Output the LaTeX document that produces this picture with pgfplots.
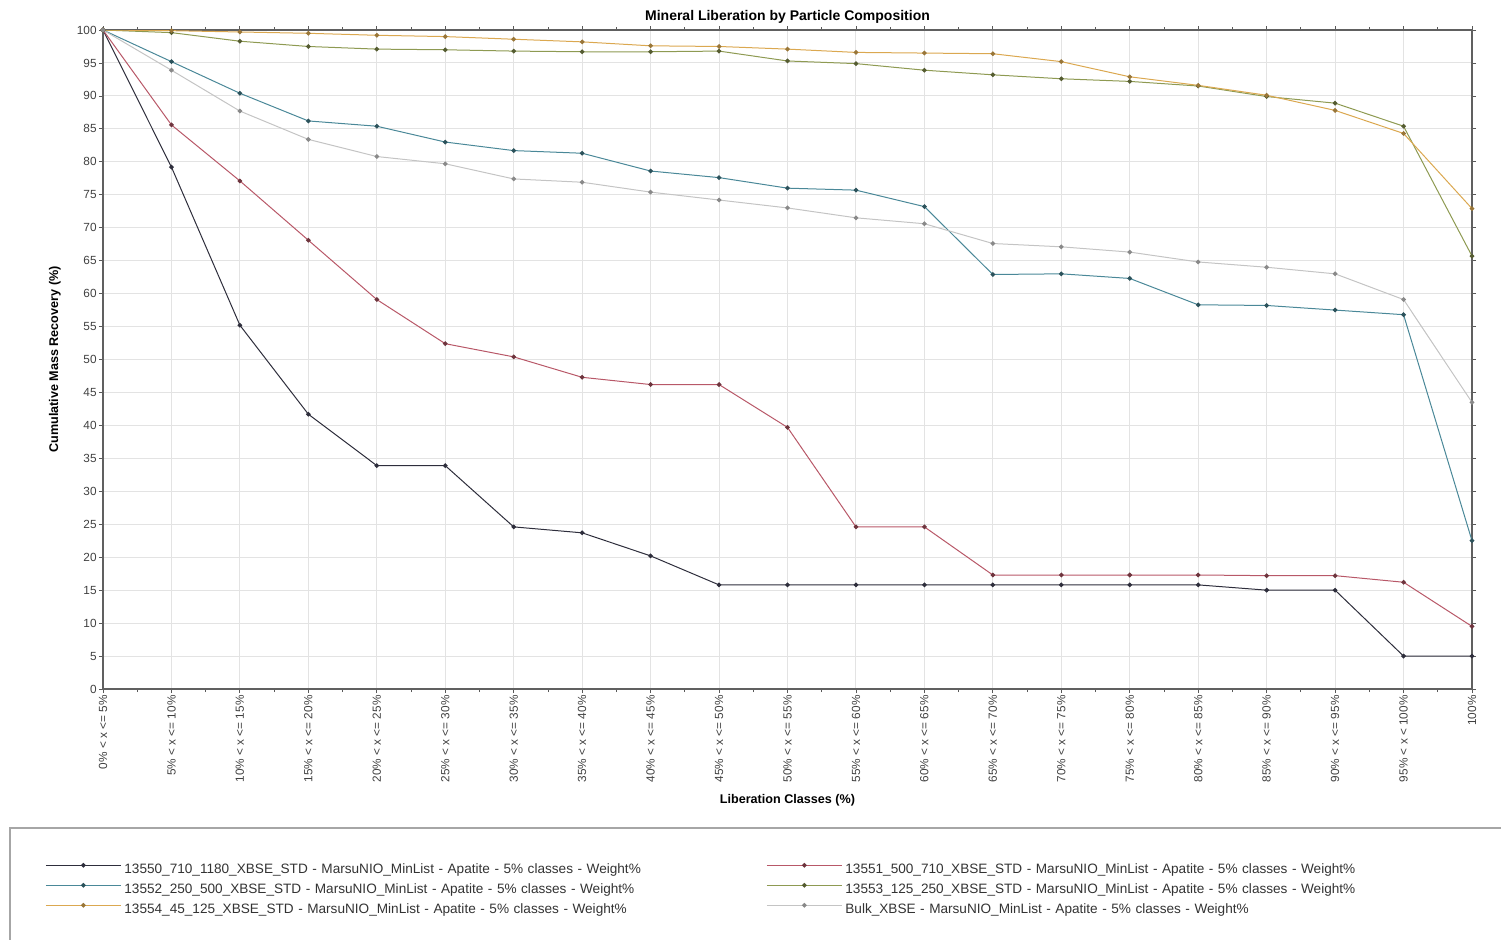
\documentclass[border=0pt]{standalone}
\usepackage{fontspec}
\setmainfont{Liberation Sans}
\usepackage{pgfplots}
\pgfplotsset{compat=1.18}
\definecolor{cA}{HTML}{2E2E3C}
\definecolor{cB}{HTML}{B85868}
\definecolor{cC}{HTML}{4A8898}
\definecolor{cD}{HTML}{8E9A52}
\definecolor{cE}{HTML}{DBA850}
\definecolor{cF}{HTML}{C4C4C4}
\begin{document}
\begin{tikzpicture}
\path[use as bounding box] (-51.5pt,-125pt) rectangle (699pt,344.5pt);
\begin{axis}[
 at={(0,0)}, anchor=south west,
 scale only axis, width=684.5pt, height=329.5pt,
 xmin=0, xmax=20, ymin=0, ymax=100,
 xtick={0,...,20},
 xticklabels={0\% < x <= 5\%, 5\% < x <= 10\%, 10\% < x <= 15\%, 15\% < x <= 20\%, 20\% < x <= 25\%, 25\% < x <= 30\%, 30\% < x <= 35\%, 35\% < x <= 40\%, 40\% < x <= 45\%, 45\% < x <= 50\%, 50\% < x <= 55\%, 55\% < x <= 60\%, 60\% < x <= 65\%, 65\% < x <= 70\%, 70\% < x <= 75\%, 75\% < x <= 80\%, 80\% < x <= 85\%, 85\% < x <= 90\%, 90\% < x <= 95\%, 95\% < x < 100\%, 100\%},
 ytick={0,5,...,100},
 minor x tick num=1,
 grid=major, major grid style={draw=gray!22, line width=0.5pt},
 tick align=outside, major tick length=2pt, minor tick length=1.5pt,
 tick style={draw=gray!70!black, line width=0.4pt},
 axis line style={draw=gray!75!black, line width=0.9pt},
 /pgf/number format/assume math mode=true,
 ticklabel style={font=\fontsize{5.9}{7}\selectfont, text=black!75},
 xticklabel style={rotate=90, anchor=east, inner sep=1pt},
 yticklabel style={inner sep=1pt},
 title={Mineral Liberation by Particle Composition},
 every axis title/.style={font=\bfseries\fontsize{7}{8}\selectfont, at={(axis description cs:0.5,1)}, anchor=center, yshift=6.5pt},
 xlabel={Liberation Classes (\%)},
 ylabel={Cumulative Mass Recovery (\%)},
 every axis x label/.style={at={(axis description cs:0.5,0)}, anchor=center, yshift=-55.5pt, font=\bfseries\fontsize{6.3}{7}\selectfont},
 every axis y label/.style={at={(axis description cs:-0.0351,0.5)}, rotate=90, anchor=center, font=\bfseries\fontsize{6.3}{7}\selectfont},
 legend columns=2,
 legend style={at={(axis description cs:0,0)}, anchor=north west, xshift=-29pt, yshift=-87pt, draw=none, fill=none, inner sep=0pt, font=\fontsize{6.8}{8}\selectfont, row sep=3.5pt, nodes={inner sep=0pt, text width=300pt, align=left, text height=5pt, text depth=1.5pt, text=black!80}, /tikz/every odd column/.style={column sep=1.5pt}, /tikz/every even column/.style={column sep=21pt}},
 legend image code/.code={\draw[mark repeat=2,mark phase=2,#1] plot coordinates {(0pt,2.3pt) (18.75pt,2.3pt) (37.5pt,2.3pt)};},
 every axis plot/.append style={line width=0.5pt, mark=*, mark size=0.9pt},
]
\addplot[color=cA, mark options={fill=cA}] coordinates {(0,100) (1,79.2) (2,55.2) (3,41.7) (4,33.9) (5,33.9) (6,24.6) (7,23.7) (8,20.2) (9,15.8) (10,15.8) (11,15.8) (12,15.8) (13,15.8) (14,15.8) (15,15.8) (16,15.8) (17,15.0) (18,15.0) (19,5.0) (20,5.0)};
\addlegendentry{13550\_710\_1180\_XBSE\_STD - MarsuNIO\_MinList - Apatite - 5\% classes - Weight\%}
\addplot[color=cB, mark options={draw=cB!60!black, fill=cB!60!black}] coordinates {(0,100) (1,85.6) (2,77.1) (3,68.1) (4,59.1) (5,52.4) (6,50.4) (7,47.3) (8,46.2) (9,46.2) (10,39.7) (11,24.6) (12,24.6) (13,17.3) (14,17.3) (15,17.3) (16,17.3) (17,17.2) (18,17.2) (19,16.2) (20,9.5)};
\addlegendentry{13551\_500\_710\_XBSE\_STD - MarsuNIO\_MinList - Apatite - 5\% classes - Weight\%}
\addplot[color=cC, mark options={draw=cC!60!black, fill=cC!60!black}] coordinates {(0,100) (1,95.2) (2,90.4) (3,86.2) (4,85.4) (5,83.0) (6,81.7) (7,81.3) (8,78.6) (9,77.6) (10,76.0) (11,75.7) (12,73.2) (13,62.9) (14,63.0) (15,62.3) (16,58.3) (17,58.2) (18,57.5) (19,56.8) (20,22.5)};
\addlegendentry{13552\_250\_500\_XBSE\_STD - MarsuNIO\_MinList - Apatite - 5\% classes - Weight\%}
\addplot[color=cD, mark options={draw=cD!60!black, fill=cD!60!black}] coordinates {(0,100) (1,99.6) (2,98.3) (3,97.5) (4,97.1) (5,97.0) (6,96.8) (7,96.7) (8,96.7) (9,96.8) (10,95.3) (11,94.9) (12,93.9) (13,93.2) (14,92.6) (15,92.2) (16,91.5) (17,89.9) (18,88.9) (19,85.4) (20,65.7)};
\addlegendentry{13553\_125\_250\_XBSE\_STD - MarsuNIO\_MinList - Apatite - 5\% classes - Weight\%}
\addplot[color=cE, mark options={draw=cE!70!black, fill=cE!70!black}] coordinates {(0,100) (1,99.9) (2,99.7) (3,99.5) (4,99.2) (5,99.0) (6,98.6) (7,98.2) (8,97.6) (9,97.5) (10,97.1) (11,96.6) (12,96.5) (13,96.4) (14,95.2) (15,92.9) (16,91.6) (17,90.1) (18,87.8) (19,84.3) (20,72.9)};
\addlegendentry{13554\_45\_125\_XBSE\_STD - MarsuNIO\_MinList - Apatite - 5\% classes - Weight\%}
\addplot[color=cF, mark options={draw=cF!70!black, fill=cF!70!black}] coordinates {(0,100) (1,93.9) (2,87.7) (3,83.4) (4,80.8) (5,79.7) (6,77.4) (7,76.9) (8,75.4) (9,74.2) (10,73.0) (11,71.5) (12,70.6) (13,67.6) (14,67.1) (15,66.3) (16,64.8) (17,64.0) (18,63.0) (19,59.1) (20,43.5)};
\addlegendentry{Bulk\_XBSE - MarsuNIO\_MinList - Apatite - 5\% classes - Weight\%}
\end{axis}
\draw[gray!70, line width=1pt] (710pt,-69.5pt) -- (-46.5pt,-69.5pt) -- (-46.5pt,-130pt);
\end{tikzpicture}
\end{document}
